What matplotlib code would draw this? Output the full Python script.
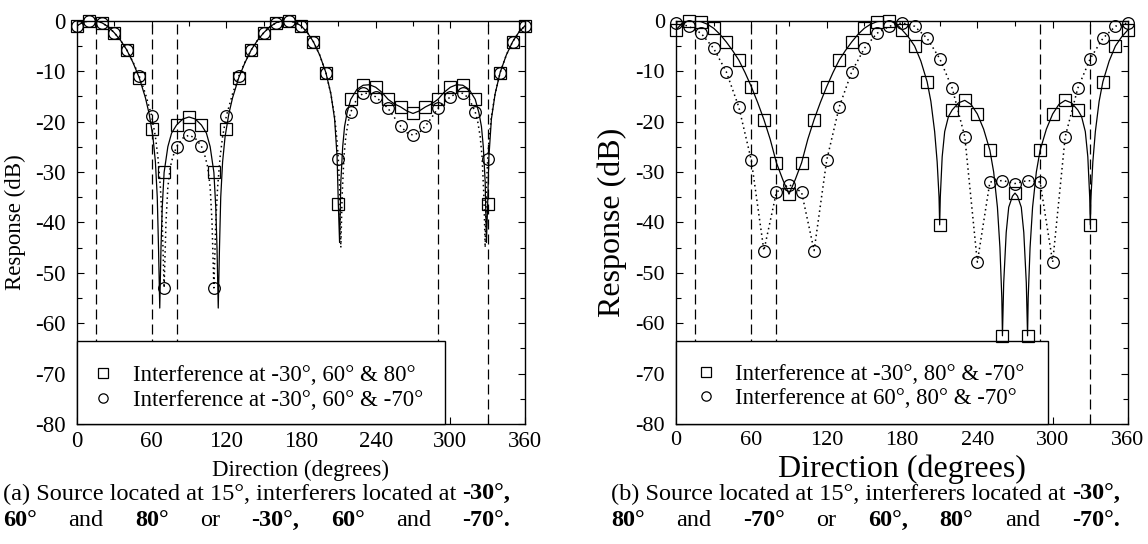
import matplotlib
matplotlib.use("Agg")
import matplotlib.pyplot as plt
from matplotlib.lines import Line2D
from matplotlib.patches import Rectangle
from matplotlib.ticker import MultipleLocator

plt.rcParams["font.family"] = ["Liberation Serif", "DejaVu Serif"]
plt.rcParams["axes.unicode_minus"] = False

# ---------------- data ----------------
marker_deg = list(range(0, 361, 10))

# panel (a)
a_sq = [-1.0, 0, -0.4, -2.4, -5.8, -11.3, -21.4, -30.1, -20.7, -19.1,
        -20.7, -30.1, -21.4, -11.3, -5.8, -2.4, -0.4, 0, -1.0, -4.2,
        -10.3, -36.4, -15.6, -12.8, -13.2, -15.6, -17.1, -18.4, -17.1, -15.6,
        -13.2, -12.8, -15.6, -36.4, -10.3, -4.2, -1.0]
a_ci = [-1.0, 0, -0.4, -2.4, -5.8, -11.0, -18.9, -53, -25.0, -22.7,
        -24.9, -53, -18.9, -11.0, -5.8, -2.4, -0.4, 0, -1.0, -4.2,
        -10.3, -27.5, -18.1, -14.4, -15.1, -17.4, -20.9, -22.7, -20.9, -17.4,
        -15.1, -14.4, -18.1, -27.5, -10.3, -4.2, -1.0]
a_sq_line_deg = [0, 5, 10, 15, 20, 25, 30, 35, 40, 45,
                 50, 55, 58, 61, 63, 64.5, 65.5, 66.5, 67.5, 68.5,
                 70, 73, 76, 80, 85, 90, 95, 100, 104, 107,
                 110, 111.5, 112.5, 113.5, 114.5, 115.5, 117, 119, 122, 125,
                 130, 135, 140, 145, 150, 155, 160, 165, 170, 175,
                 180, 185, 190, 195, 200, 204, 207, 209, 210, 211,
                 212, 213.5, 215, 217, 220, 225, 230, 235, 240, 245,
                 250, 255, 260, 265, 270, 275, 280, 285, 290, 295,
                 300, 305, 310, 315, 320, 323, 325, 326.5, 328, 329,
                 330, 331, 333, 336, 340, 345, 350, 355, 360]
a_sq_line_db = [-1.0, -0.3, 0, 0, -0.4, -1.2, -2.4, -3.9, -5.8, -8.3,
                -11.3, -15.3, -18.5, -23, -28, -35, -45, -57, -45, -37,
                -30.1, -25, -22.3, -20.7, -19.5, -19.1, -19.5, -20.7, -22.3, -25,
                -30.1, -37, -45, -57, -45, -35, -28, -23, -18.5, -15.3,
                -11.3, -8.3, -5.8, -3.9, -2.4, -1.2, -0.4, 0, 0, -0.3,
                -1.0, -2.3, -4.2, -6.8, -10.3, -14.5, -19.5, -27, -36.4, -44,
                -32, -25, -21, -18.3, -15.6, -13.6, -12.8, -12.7, -13.2, -14.2,
                -15.6, -16.5, -17.1, -17.9, -18.4, -17.9, -17.1, -16.5, -15.6, -14.2,
                -13.2, -12.7, -12.8, -13.6, -15.6, -18.3, -21, -25, -32, -44,
                -36.4, -27, -19.5, -14.5, -10.3, -6.8, -4.2, -2.3, -1.0]
a_ci_line_deg = [0, 5, 10, 15, 20, 25, 30, 35, 40, 45,
                 50, 55, 60, 63, 65, 67, 68.5, 70, 71.5, 73,
                 75, 77, 80, 85, 90, 95, 100, 103, 105, 107,
                 108.5, 110, 111.5, 113, 115, 117, 120, 125, 130, 135,
                 140, 145, 150, 155, 160, 165, 170, 175, 180, 185,
                 190, 195, 200, 204, 207, 209, 210, 211, 212, 213,
                 214.5, 216, 218, 220, 225, 230, 235, 240, 245, 250,
                 255, 260, 265, 270, 275, 280, 285, 290, 295, 300,
                 305, 310, 315, 320, 322, 324, 325.5, 327, 328, 329,
                 330, 331, 333, 336, 340, 345, 350, 355, 360]
a_ci_line_db = [-1.0, -0.3, 0, 0, -0.4, -1.2, -2.4, -3.9, -5.8, -8.2,
                -11.0, -14.5, -18.9, -23, -27, -33, -40, -53, -40, -33,
                -29, -27, -25.0, -23.3, -22.7, -23.3, -24.9, -27, -29, -33,
                -40, -53, -40, -33, -27, -23, -18.9, -14.5, -11.0, -8.2,
                -5.8, -3.9, -2.4, -1.2, -0.4, 0, 0, -0.3, -1.0, -2.3,
                -4.2, -6.8, -10.3, -14.5, -19, -24, -27.5, -33, -45, -35,
                -27, -23, -20, -18.1, -15.4, -14.4, -14.4, -15.1, -16.2, -17.4,
                -19.2, -20.9, -22.2, -22.7, -22.2, -20.9, -19.2, -17.4, -16.2, -15.1,
                -14.4, -14.4, -15.4, -18.1, -20, -23, -27, -35, -45, -33,
                -27.5, -24, -19, -14.5, -10.3, -6.8, -4.2, -2.3, -1.0]

# panel (b)
b_sq = [-1.8, 0, -0.2, -1.5, -4.2, -7.8, -13.1, -19.6, -28.2, -34.4,
        -28.2, -19.6, -13.1, -7.8, -4.2, -1.5, -0.2, 0, -1.8, -5.0,
        -12.1, -40.5, -17.7, -15.8, -18.5, -25.7, -62.5, -34.2, -62.5, -25.7,
        -18.5, -15.8, -17.7, -40.5, -12.1, -5.0, -1.8]
b_ci = [-0.4, -1.1, -2.5, -5.5, -10.1, -17.1, -27.7, -45.6, -34.0, -32.5,
        -34.0, -45.6, -27.7, -17.1, -10.1, -5.5, -2.5, -1.1, -0.4, -1.1,
        -3.5, -7.5, -13.4, -23.0, -47.9, -32.0, -31.7, -32.3, -31.7, -32.0,
        -47.9, -23.0, -13.4, -7.5, -3.5, -1.1, -0.4]
b_sq_line_deg = [0, 5, 10, 15, 20, 25, 30, 35, 40, 45,
                 50, 55, 60, 65, 70, 75, 80, 85, 90, 95,
                 100, 105, 110, 115, 120, 125, 130, 135, 140, 145,
                 150, 155, 160, 165, 170, 175, 180, 185, 190, 195,
                 200, 203, 206, 208, 209.5, 210, 210.5, 212, 214, 217,
                 220, 225, 230, 235, 240, 245, 250, 253, 256, 258,
                 259.5, 260, 261, 263, 265, 268, 270, 272, 275, 277,
                 279, 280, 280.5, 282, 284, 287, 290, 295, 300, 305,
                 310, 315, 320, 323, 326, 328, 329.5, 330, 330.5, 332,
                 334, 337, 340, 345, 350, 355, 360]
b_sq_line_db = [-1.8, -0.5, 0, 0, -0.2, -0.7, -1.5, -2.7, -4.2, -5.9,
                -7.8, -10.3, -13.1, -16.2, -19.6, -23.5, -28.2, -31.5, -34.4, -31.5,
                -28.2, -23.5, -19.6, -16.2, -13.1, -10.3, -7.8, -5.9, -4.2, -2.7,
                -1.5, -0.7, -0.2, 0, 0, -0.5, -1.8, -3.2, -5.0, -8.0,
                -12.1, -16, -22, -28, -35, -40.5, -35, -27, -22, -19,
                -17.7, -16.3, -15.8, -16.6, -18.5, -21.5, -25.7, -30, -37, -45,
                -55, -62.5, -52, -42, -37, -34.8, -34.2, -34.8, -37, -42,
                -52, -62.5, -55, -45, -37, -30, -25.7, -21.5, -18.5, -16.6,
                -15.8, -16.3, -17.7, -19, -22, -27, -35, -40.5, -35, -28,
                -22, -16, -12.1, -8.0, -5.0, -3.2, -1.8]

marked_dirs = [15, 60, 80, 290, 330]      # source and interferer directions
x_ticks = [0, 60, 120, 180, 240, 300, 360]
y_ticks = [0, -10, -20, -30, -40, -50, -60, -70, -80]
y_tick_labels = ["0", "-10", "-20", "-30", "-40", "-50", "-60", "-70", "-80"]

legend_a = ["Interference at -30°, 60° & 80°", "Interference at -30°, 60° & -70°"]
legend_b = ["Interference at -30°, 80° & -70°", "Interference at 60°, 80° & -70°"]
legend_box_end = 296
legend_box_top = -63.6

cap_a1 = [("(a) Source located at 15°, interferers located at", "normal"), ("-30°,", "bold")]
cap_a2 = [("60°", "bold"), ("and", "normal"), ("80°", "bold"), ("or", "normal"),
          ("-30°,", "bold"), ("60°", "bold"), ("and", "normal"), ("-70°.", "bold")]
cap_b1 = [("(b) Source located at 15°, interferers located at", "normal"), ("-30°,", "bold")]
cap_b2 = [("80°", "bold"), ("and", "normal"), ("-70°", "bold"), ("or", "normal"),
          ("60°,", "bold"), ("80°", "bold"), ("and", "normal"), ("-70°.", "bold")]

# ---------------- figure ----------------
W, H = 1148, 544
fig = plt.figure(figsize=(W / 100, H / 100), dpi=100)
fig.patch.set_facecolor("white")

AX_TOP, AX_BOT = 20.7, 424.0


def add_ax(x0, x1):
    return fig.add_axes([x0 / W, (H - AX_BOT) / H, (x1 - x0) / W, (AX_BOT - AX_TOP) / H])


ax_a = add_ax(77, 525)
ax_b = add_ax(676, 1128)


def style(ax, tick_size):
    ax.set_xlim(0, 360)
    ax.set_ylim(-80, 0)
    ax.set_xticks(x_ticks)
    ax.set_xticklabels([str(t) for t in x_ticks])
    ax.set_yticks(y_ticks)
    ax.set_yticklabels(y_tick_labels)
    ax.xaxis.set_minor_locator(MultipleLocator(30))
    ax.yaxis.set_minor_locator(MultipleLocator(5))
    ax.tick_params(which="both", direction="in", top=True, right=True, width=0.8, colors="k")
    ax.tick_params(which="major", length=5)
    ax.tick_params(which="minor", length=3.5)
    ax.tick_params(axis="x", labelsize=tick_size, pad=5)
    ax.tick_params(axis="y", labelsize=tick_size, pad=8)
    for s in ax.spines.values():
        s.set_linewidth(1.0)
        s.set_color("k")


def draw_panel(ax, sq, ci, sq_line_deg, sq_line_db, ci_line_deg, ci_line_db):
    for d in marked_dirs:
        ax.axvline(d, color="k", lw=0.9, dashes=(8, 4), zorder=1)
    ax.plot(sq_line_deg, sq_line_db, color="k", lw=0.9, zorder=2)
    ax.plot(ci_line_deg, ci_line_db, color="k", lw=1.1, ls=(0, (1, 2.2)), zorder=2)
    ax.plot(marker_deg, sq, ls="none", marker="s", ms=9, mfc="none", mec="k",
            mew=0.9, zorder=5, clip_on=False)
    ax.plot(marker_deg, ci, ls="none", marker="o", ms=8.4, mfc="none", mec="k",
            mew=0.9, zorder=5, clip_on=False)
    ax.add_patch(Rectangle((0, -80), legend_box_end, legend_box_top + 80, fc="white",
                           ec="k", lw=1.0, zorder=4, clip_on=False))


style(ax_a, 16.5)
style(ax_b, 16)
draw_panel(ax_a, a_sq, a_ci, a_sq_line_deg, a_sq_line_db, a_ci_line_deg, a_ci_line_db)
draw_panel(ax_b, b_sq, b_ci, b_sq_line_deg, b_sq_line_db, marker_deg, b_ci)


def add_legend(ax, labels, fs, x0, yc, pad):
    handles = [Line2D([], [], ls="none", marker="s", ms=7.2, mfc="none", mec="k", mew=0.9),
               Line2D([], [], ls="none", marker="o", ms=6.7, mfc="none", mec="k", mew=0.9)]
    leg = ax.legend(handles, labels, loc="center left", bbox_to_anchor=(x0, yc),
                    frameon=False, fontsize=fs, handlelength=1.0, handletextpad=pad,
                    labelspacing=0.15, borderpad=0, borderaxespad=0, numpoints=1)
    leg.set_zorder(6)


add_legend(ax_a, legend_a, 16.5, 0.0324, 0.0894, 0.8)
add_legend(ax_b, legend_b, 16.4, 0.041, 0.0925, 0.77)

ax_a.set_xlabel("Direction (degrees)", fontsize=16.5, va="center")
ax_a.xaxis.set_label_coords(0.5, (AX_BOT - 470) / (AX_BOT - AX_TOP))
ax_a.set_ylabel("Response (dB)", fontsize=16.5, va="center")
ax_a.yaxis.set_label_coords((15 - 77) / 448, 0.5)

ax_b.set_xlabel("Direction (degrees)", fontsize=23, va="center")
ax_b.xaxis.set_label_coords(0.5, (AX_BOT - 469) / (AX_BOT - AX_TOP))
ax_b.set_ylabel("Response (dB)", fontsize=23, va="center")
ax_b.yaxis.set_label_coords((612 - 676) / 452, 0.5)


def draw_caption(x0, line1, line2, size, y1px=494, y2px=521):
    r = fig.canvas.get_renderer()
    y1 = (H - y1px) / H
    y2 = (H - y2px) / H
    sp = size * 100 / 72 * 0.25
    x = x0
    for s, w in line1:
        t = fig.text(x / W, y1, s, fontsize=size, fontweight=w, va="center", ha="left")
        bb = t.get_window_extent(renderer=r)
        x = bb.x1 + sp
    line_end = x - sp
    texts, widths = [], []
    for s, w in line2:
        t = fig.text(0, y2, s, fontsize=size, fontweight=w, va="center", ha="left")
        texts.append(t)
        widths.append(t.get_window_extent(renderer=r).width)
    gap = (line_end - x0 - sum(widths)) / (len(widths) - 1)
    x = x0
    for t, wd in zip(texts, widths):
        t.set_x(x / W)
        x += wd + gap


draw_caption(3, cap_a1, cap_a2, 17.5)
draw_caption(611, cap_b1, cap_b2, 17.5)

fig.savefig("out.png", dpi=100, facecolor="white")
